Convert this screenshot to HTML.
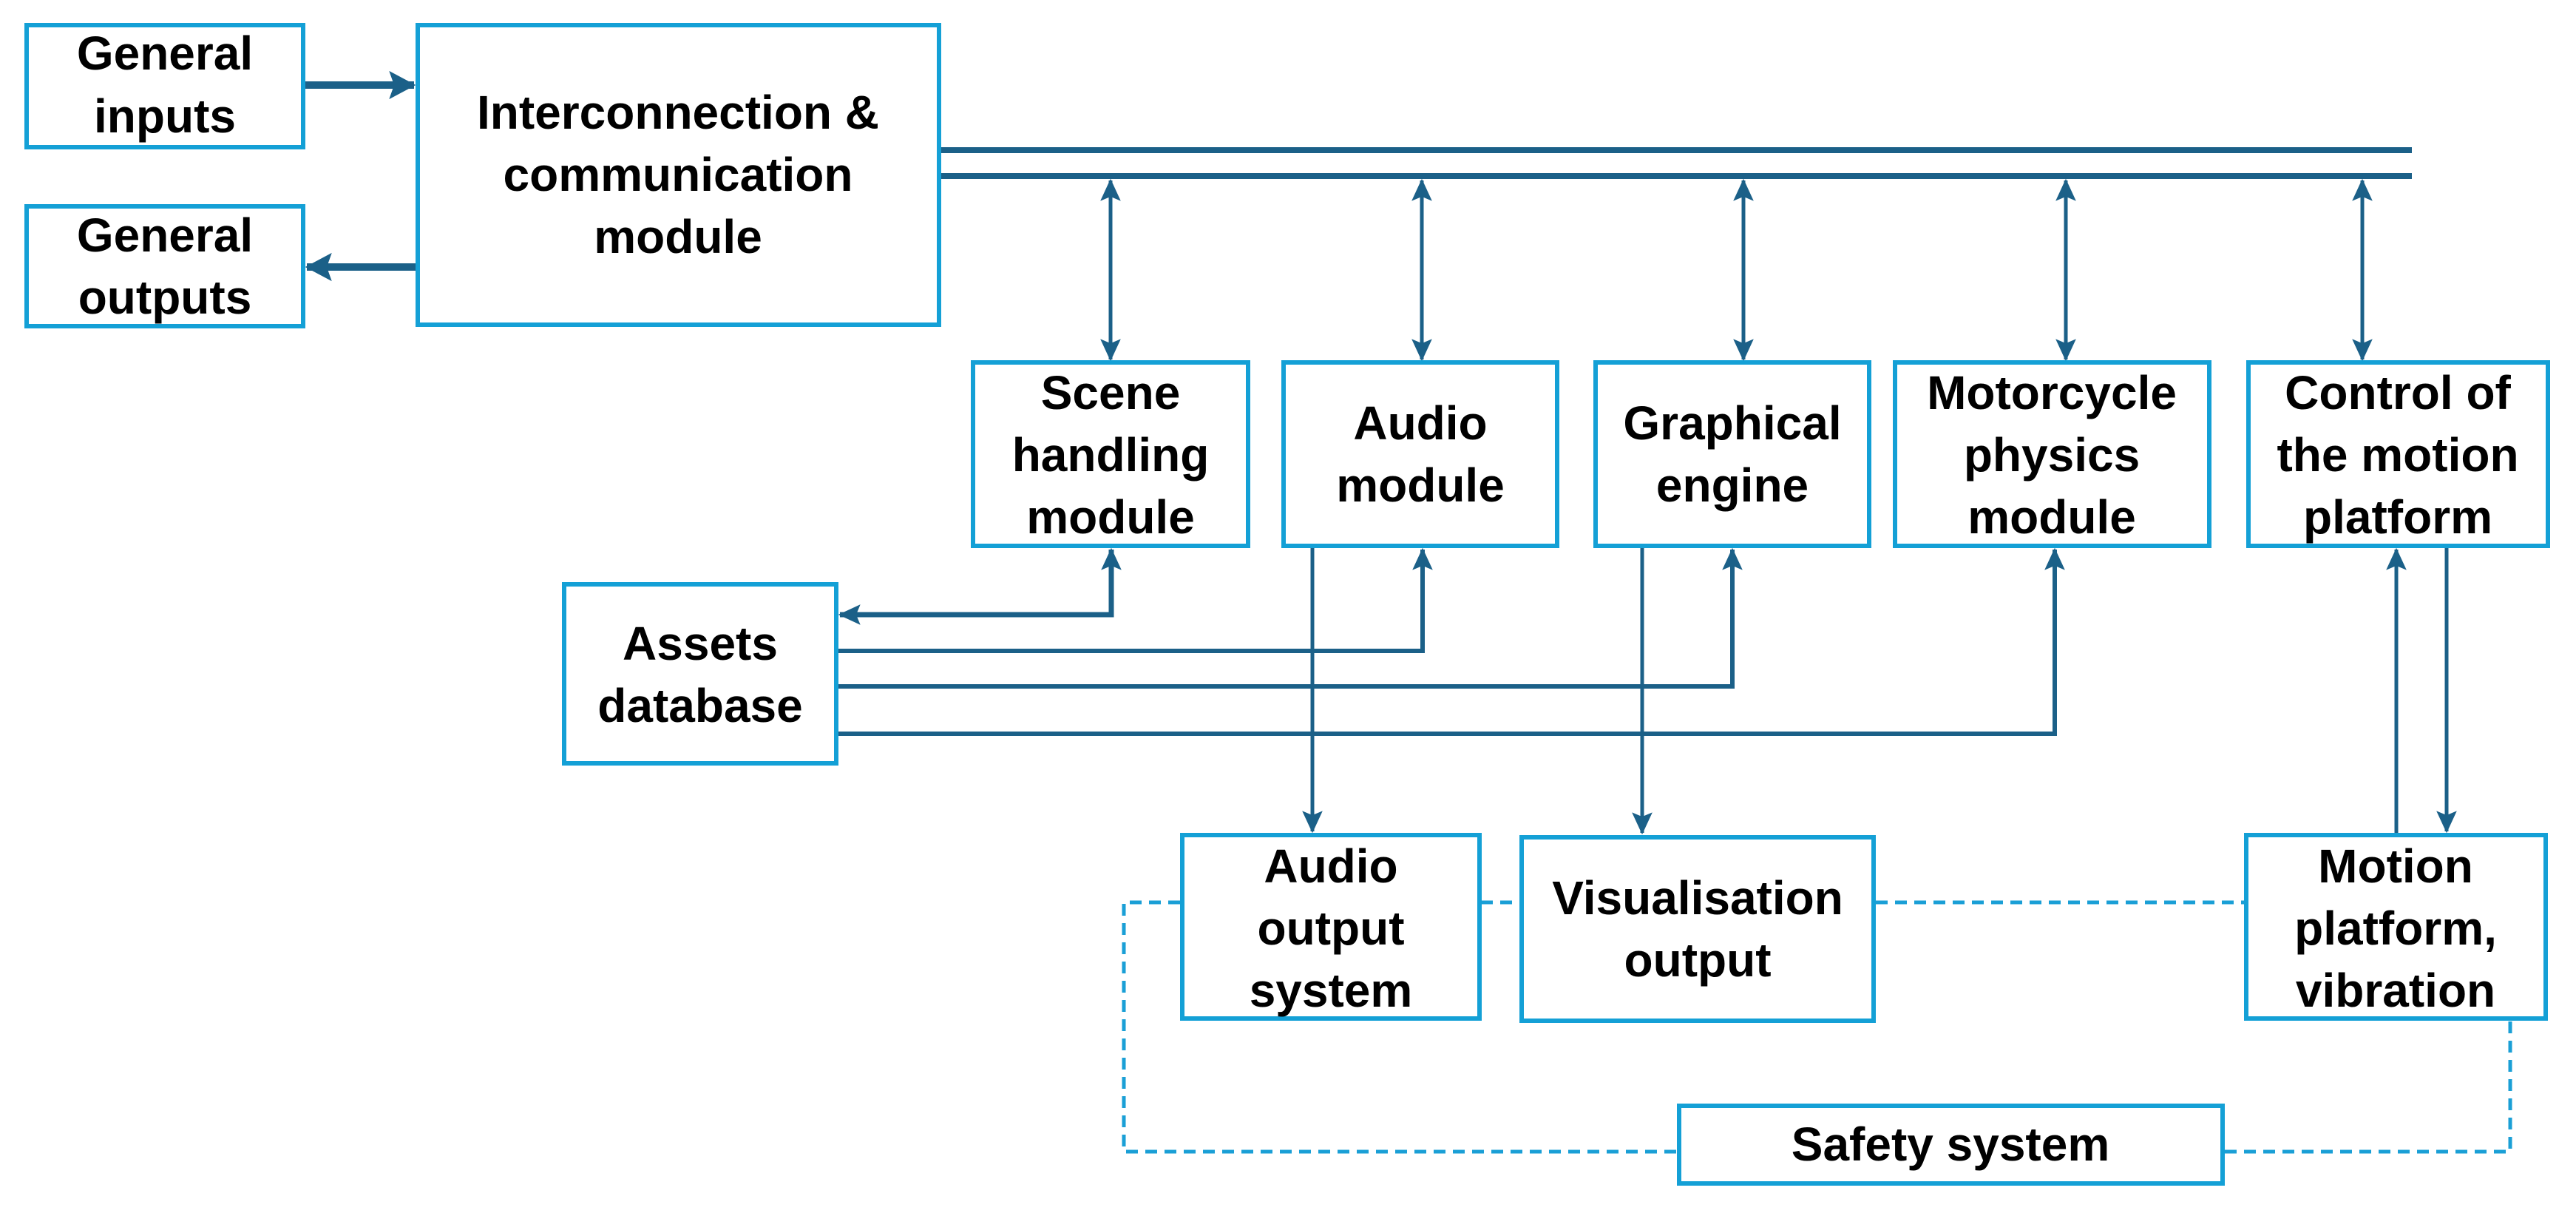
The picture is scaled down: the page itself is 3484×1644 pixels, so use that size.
<!DOCTYPE html>
<html><head><meta charset="utf-8"><style>
html,body{margin:0;padding:0;background:#fff;}
svg{display:block;}
text{font-family:"Liberation Sans",sans-serif;font-weight:bold;font-size:64px;fill:#000;text-anchor:middle;}
</style></head><body>
<svg width="3484" height="1644" viewBox="0 0 3484 1644" xmlns="http://www.w3.org/2000/svg">
<defs>
<marker id="ah" markerUnits="userSpaceOnUse" markerWidth="30" markerHeight="30" refX="24" refY="12" orient="auto-start-reverse" viewBox="0 0 26 24">
<path d="M0,0 L26,12 L0,24 L5,12 Z" fill="#1b6088"/>
</marker>
<marker id="ahb" markerUnits="userSpaceOnUse" markerWidth="36" markerHeight="40" refX="30" refY="17" orient="auto-start-reverse" viewBox="0 0 32 34">
<path d="M0,0 L32,17 L0,34 L6,17 Z" fill="#1b6088"/>
</marker>
</defs>
<g fill="none" stroke="#1b6088">
<line x1="413" y1="115" x2="560" y2="115" stroke-width="10" marker-end="url(#ahb)"/>
<line x1="562" y1="361" x2="415" y2="361" stroke-width="10" marker-end="url(#ahb)"/>
<line x1="1273" y1="203" x2="3262" y2="203" stroke-width="8"/>
<line x1="1273" y1="238" x2="3262" y2="238" stroke-width="8"/>
<line x1="1502" y1="244" x2="1502" y2="486" stroke-width="5" marker-start="url(#ah)" marker-end="url(#ah)"/>
<line x1="1923" y1="244" x2="1923" y2="486" stroke-width="5" marker-start="url(#ah)" marker-end="url(#ah)"/>
<line x1="2358" y1="244" x2="2358" y2="486" stroke-width="5" marker-start="url(#ah)" marker-end="url(#ah)"/>
<line x1="2794" y1="244" x2="2794" y2="486" stroke-width="5" marker-start="url(#ah)" marker-end="url(#ah)"/>
<line x1="3195" y1="244" x2="3195" y2="486" stroke-width="5" marker-start="url(#ah)" marker-end="url(#ah)"/>
<polyline points="1136,831 1503,831 1503,743" stroke-width="7" marker-start="url(#ah)" marker-end="url(#ah)"/>
<polyline points="1133,880 1924,880 1924,743" stroke-width="6" marker-end="url(#ah)"/>
<polyline points="1133,928 2343,928 2343,743" stroke-width="6" marker-end="url(#ah)"/>
<polyline points="1133,992 2779,992 2779,743" stroke-width="6" marker-end="url(#ah)"/>
<line x1="1775" y1="741" x2="1775" y2="1124" stroke-width="5" marker-end="url(#ah)"/>
<line x1="2221" y1="741" x2="2221" y2="1126" stroke-width="5" marker-end="url(#ah)"/>
<line x1="3241" y1="1126" x2="3241" y2="743" stroke-width="5" marker-end="url(#ah)"/>
<line x1="3309" y1="741" x2="3309" y2="1124" stroke-width="5" marker-end="url(#ah)"/>
</g>
<g fill="none" stroke="#1a9fd6" stroke-width="5" stroke-dasharray="16 10">
<polyline points="1596,1220 1520,1220 1520,1557 2268,1557"/>
<line x1="2003" y1="1220" x2="2055" y2="1220"/>
<line x1="2537" y1="1220" x2="3035" y2="1220"/>
<polyline points="3009,1557 3395,1557 3395,1379"/>
</g>
<g fill="#fff" stroke="#14a0d6" stroke-width="6">
<rect x="36" y="34" width="374" height="165"/>
<rect x="36" y="279" width="374" height="162"/>
<rect x="565" y="34" width="705" height="405"/>
<rect x="1316" y="490" width="372" height="248"/>
<rect x="1736" y="490" width="370" height="248"/>
<rect x="2158" y="490" width="370" height="248"/>
<rect x="2563" y="490" width="425" height="248"/>
<rect x="3041" y="490" width="405" height="248"/>
<rect x="763" y="790" width="368" height="242"/>
<rect x="1599" y="1129" width="402" height="248"/>
<rect x="2058" y="1132" width="476" height="248"/>
<rect x="3038" y="1129" width="405" height="248"/>
<rect x="2271" y="1495" width="735" height="105"/>
</g>
<text x="223" y="94">General</text><text x="223" y="179">inputs</text>
<text x="223" y="340">General</text><text x="223" y="424">outputs</text>
<text x="917" y="174">Interconnection &amp;</text><text x="917" y="258">communication</text><text x="917" y="342">module</text>
<text x="1502" y="553">Scene</text><text x="1502" y="637">handling</text><text x="1502" y="721">module</text>
<text x="1921" y="594">Audio</text><text x="1921" y="678">module</text>
<text x="2343" y="594">Graphical</text><text x="2343" y="678">engine</text>
<text x="2775" y="553">Motorcycle</text><text x="2775" y="637">physics</text><text x="2775" y="721">module</text>
<text x="3243" y="553">Control of</text><text x="3243" y="637">the motion</text><text x="3243" y="721">platform</text>
<text x="947" y="892">Assets</text><text x="947" y="976">database</text>
<text x="1800" y="1193">Audio</text><text x="1800" y="1277">output</text><text x="1800" y="1361">system</text>
<text x="2296" y="1236">Visualisation</text><text x="2296" y="1320">output</text>
<text x="3240" y="1193">Motion</text><text x="3240" y="1277">platform,</text><text x="3240" y="1361">vibration</text>
<text x="2638" y="1569">Safety system</text>
</svg>
</body></html>
